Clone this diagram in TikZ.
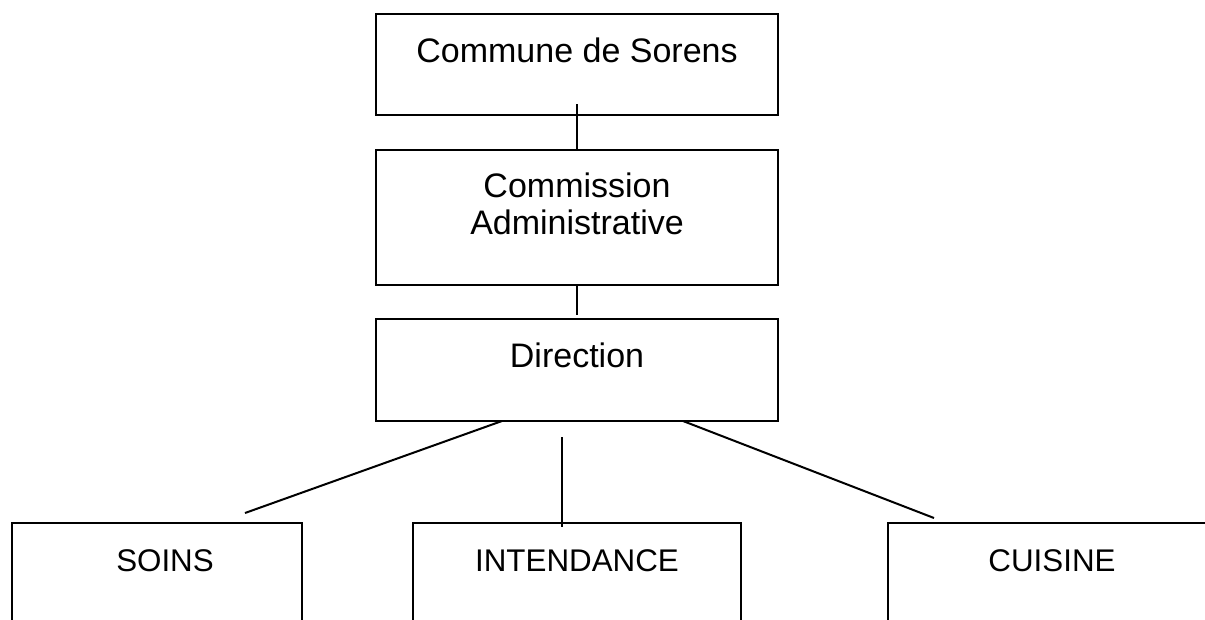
\documentclass[tikz,border=0pt]{standalone}
\usepackage{fontspec}
\setmainfont{Liberation Sans}
\usetikzlibrary{calc,fit}
\begin{document}
\begin{tikzpicture}[x=0.75pt,y=-0.75pt,
  box/.style={draw,line width=1.5pt,rectangle,inner sep=0pt,outer sep=0pt},
  lbl/.style={font=\fontsize{25.5}{28}\selectfont,anchor=base,inner sep=0pt},
  caplbl/.style={lbl,font=\fontsize{23.5}{28}\selectfont},
  conn/.style={line width=1.5pt}]
\clip (0,0) rectangle (1205,619);
\fill[white] (0,0) rectangle (1205,619);
% boxes
\node[box,fit={(376,14) (778,115)}] (b1) {};
\node[box,fit={(376,150) (778,285)}] (b2) {};
\node[box,fit={(376,319) (778,421)}] (b3) {};
\node[box,fit={(12,523) (302,690)}] (s) {};
\node[box,fit={(413,523) (741,690)}] (i) {};
\node[box,fit={(888,523) (1230,690)}] (c) {};
% labels
\node[lbl] (t1) at (577,62) {Commune de Sorens};
\node[lbl] (t2a) at (577,197) {Commission};
\node[lbl] (t2b) at (577,234) {Administrative};
\node[lbl] (t3) at (577,367) {Direction};
\node[caplbl] (ts) at (165,571) {SOINS};
\node[caplbl] (ti) at (577,571) {INTENDANCE};
\node[caplbl] (tc) at (1052,571) {CUISINE};
% connectors
\draw[conn] ($(b1.south)+(0,-11)$) -- (b2.north);
\draw[conn] (b2.south) -- ($(b3.north)+(0,-4)$);
\draw[conn] ($(b3.south west)+(126,0)$) -- ($(s.north west)+(233,-10)$);
\draw[conn] ($(b3.south)+(-15,16)$) -- ($(i.north west)+(149,4)$);
\draw[conn] ($(b3.south west)+(307,0)$) -- ($(c.north west)+(46,-5)$);
\end{tikzpicture}
\end{document}
